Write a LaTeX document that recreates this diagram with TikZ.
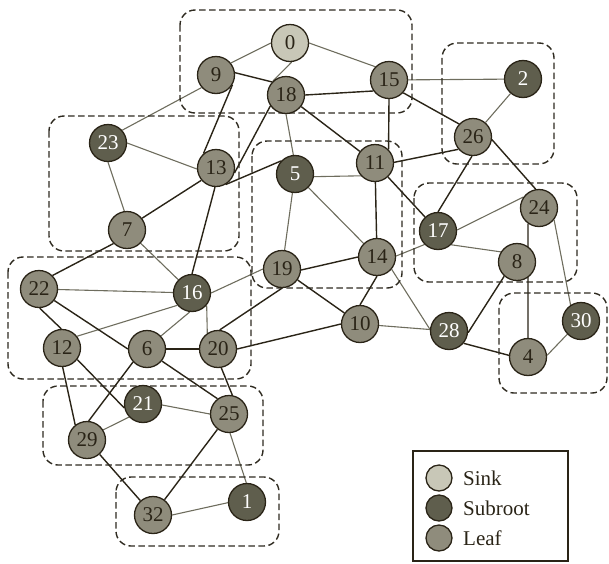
\documentclass[tikz,border=0pt]{standalone}
\usepackage{fontspec}
\setmainfont{Liberation Serif}
\usetikzlibrary{backgrounds}

\definecolor{sinkfill}{HTML}{C8C7B7}
\definecolor{subfill}{HTML}{5F5E4D}
\definecolor{leaffill}{HTML}{8F8C7C}
\definecolor{ink}{HTML}{2A2417}
\definecolor{thinline}{HTML}{6E6D5E}
\definecolor{boxline}{HTML}{2E2A20}

\tikzset{
  vtx/.style={circle, draw=ink, line width=1.3pt, minimum size=37pt, inner sep=0pt,
              font=\fontsize{21}{25}\selectfont},
  sink/.style={vtx, fill=sinkfill, text=ink},
  subroot/.style={vtx, fill=subfill, text=white},
  leaf/.style={vtx, fill=leaffill, text=ink},
  strong/.style={draw=ink, line width=1.4pt},
  weak/.style={draw=thinline, line width=1.1pt},
  cluster/.style={draw=boxline, line width=1.4pt, dash pattern=on 6.5pt off 3.5pt, rounded corners=15pt},
  keydot/.style={circle, draw=ink, line width=1.3pt, minimum size=26pt, inner sep=0pt},
  keytext/.style={anchor=west, inner sep=0pt, font=\fontsize{21}{25}\selectfont, text=ink},
}

\begin{document}
\begin{tikzpicture}[x=1pt, y=-1pt]
\useasboundingbox (0,0) rectangle (609,563);

% clusters
\draw[cluster] (180,10) rectangle (412,113);
\draw[cluster] (49,116) rectangle (239,251);
\draw[cluster] (252,141) rectangle (402,288);
\draw[cluster] (442,43) rectangle (554,164);
\draw[cluster] (414,183) rectangle (577,282);
\draw[cluster] (8,257) rectangle (251,379);
\draw[cluster] (43,386) rectangle (263,465);
\draw[cluster] (116,477) rectangle (279,546);
\draw[cluster] (499,293) rectangle (607,393);

% vertices
\node[sink]    (n0)  at (290,43)  {0};
\node[leaf]    (n9)  at (216,75)  {9};
\node[leaf]    (n18) at (286,95)  {18};
\node[leaf]    (n15) at (389,80)  {15};
\node[subroot] (n2)  at (523,79)  {2};
\node[leaf]    (n26) at (473,137) {26};
\node[subroot] (n23) at (108,143) {23};
\node[leaf]    (n13) at (216,168) {13};
\node[subroot] (n5)  at (295,174) {5};
\node[leaf]    (n11) at (375,163) {11};
\node[subroot] (n17) at (438,231) {17};
\node[leaf]    (n24) at (539,208) {24};
\node[leaf]    (n7)  at (127,230) {7};
\node[leaf]    (n14) at (377,257) {14};
\node[leaf]    (n8)  at (517,262) {8};
\node[leaf]    (n19) at (282,269) {19};
\node[leaf]    (n22) at (39,289)  {22};
\node[subroot] (n16) at (192,293) {16};
\node[leaf]    (n12) at (62,348)  {12};
\node[leaf]    (n6)  at (147,349) {6};
\node[leaf]    (n20) at (218,349) {20};
\node[leaf]    (n10) at (360,324) {10};
\node[subroot] (n28) at (449,331) {28};
\node[leaf]    (n4)  at (528,357) {4};
\node[subroot] (n30) at (581,321) {30};
\node[subroot] (n21) at (143,404) {21};
\node[leaf]    (n25) at (229,414) {25};
\node[leaf]    (n29) at (87,440)  {29};
\node[leaf]    (n32) at (153,515) {32};
\node[subroot] (n1)  at (247,502) {1};

\begin{pgfonlayer}{background}
% light links
\draw[weak] (n0.180) -- (n9.39);
\draw[weak] (n0.-85) -- (n18.133);
\draw[weak] (n0.0) -- (n15.136);
\draw[weak] (n9.221) -- (n23.42);
\draw[weak] (n18.-90) -- (n5.95);
\draw[weak] (n23.0) -- (n13.183);
\draw[weak] (n23.-90) -- (n7.98);
\draw[weak] (n7) -- (n16);
\draw[weak] (n15) -- (n2);
\draw[weak] (n2) -- (n26);
\draw[weak] (n5.-8) -- (n11.222);
\draw[weak] (n5) -- (n19);
\draw[weak] (n5) -- (n14);
\draw[weak] (n17.3) -- (n24.145);
\draw[weak] (n17.-46) -- (n8.148);
\draw[weak] (n14.3) -- (n17.225);
\draw[weak] (n24.-38) -- (n30.123);
\draw[weak] (n30.224) -- (n4.5);
\draw[weak] (n14.-40) -- (n28.175);
\draw[weak] (n10) -- (n28);
\draw[weak] (n16.0) -- (n19.180);
\draw[weak] (n22) -- (n16);
\draw[weak] (n16.220) -- (n12.38);
\draw[weak] (n16.-97) -- (n6.43);
\draw[weak] (n16.-40) -- (n20.124);
\draw[weak] (n21.-3) -- (n25.180);
\draw[weak] (n21.223) -- (n29.32);
\draw[weak] (n25.-87) -- (n1.92);
\draw[weak] (n32.0) -- (n1.182);
% dark links
\draw[strong] (n9.7) -- (n18.137);
\draw[strong] (n9.-31) -- (n13.131);
\draw[strong] (n18.215) -- (n13.-15);
\draw[strong] (n18.0) -- (n15.215);
\draw[strong] (n18) -- (n11);
\draw[strong] (n7.38) -- (n13.220);
\draw[strong] (n13.-60) -- (n5.137);
\draw[strong] (n13.-93) -- (n16.90);
\draw[strong] (n7.225) -- (n22.45);
\draw[strong] (n15.-42) -- (n26.137);
\draw[strong] (n15.south) -- (n11.45);
\draw[strong] (n11.2) -- (n26.220);
\draw[strong] (n26.-93) -- (n17.90);
\draw[strong] (n26.-8) -- (n24.100);
\draw[strong] (n11) -- (n14);
\draw[strong] (n11) -- (n17);
\draw[strong] (n24.235) -- (n4.north);
\draw[strong] (n8.228) -- (n28.-5);
\draw[strong] (n28.-40) -- (n4.175);
\draw[strong] (n14.-90) -- (n10.90);
\draw[strong] (n19.-3) -- (n14.180);
\draw[strong] (n19) -- (n10);
\draw[strong] (n20.0) -- (n10.180);
\draw[strong] (n19.-90) -- (n20.85);
\draw[strong] (n22.-88) -- (n12.92);
\draw[strong] (n22.-37) -- (n6.180);
\draw[strong] (n6) -- (n20);
\draw[strong] (n6.223) -- (n29.85);
\draw[strong] (n6.-39) -- (n25.127);
\draw[strong] (n12.-88) -- (n29.128);
\draw[strong] (n12.-37) -- (n21.192);
\draw[strong] (n20.-80) -- (n25.80);
\draw[strong] (n25) -- (n32);
\draw[strong] (n29) -- (n32);
\end{pgfonlayer}

% legend
\draw[ink, line width=1.2pt] (413,451) rectangle (568,561);
\node[keydot, fill=sinkfill] (ksink) at (439,478) {};
\node[keydot, fill=subfill]  (ksub)  at (439,508) {};
\node[keydot, fill=leaffill] (kleaf) at (439,538) {};
\node[keytext] (tsink) at (463,478) {Sink};
\node[keytext] (tsub)  at (463,508) {Subroot};
\node[keytext] (tleaf) at (463,538) {Leaf};
\end{tikzpicture}
\end{document}
